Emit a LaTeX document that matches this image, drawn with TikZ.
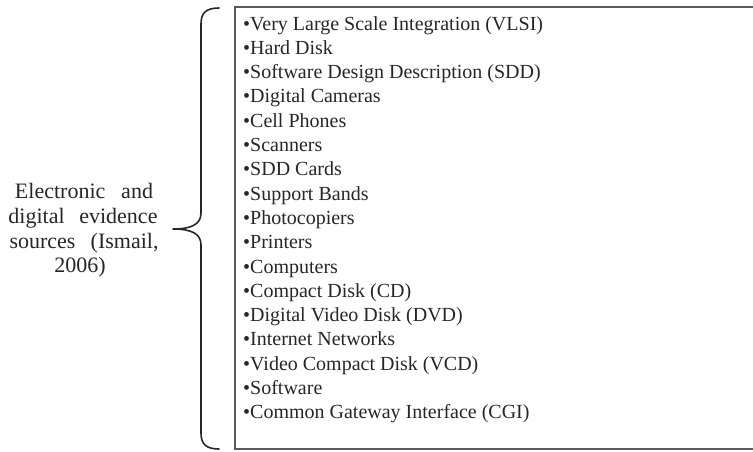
\documentclass[tikz,border=0pt]{standalone}
\usepackage{fontspec}
\setmainfont{Liberation Serif}
\definecolor{txt}{HTML}{262626}
\definecolor{boxline}{HTML}{5A5A5A}
\begin{document}
\begin{tikzpicture}[x=1pt,y=-1pt,
  item/.style={anchor=base west, inner sep=0pt, text=txt, font=\fontsize{20}{24}\selectfont},
  srcline/.style={anchor=base, inner sep=0pt, text=txt, font=\fontsize{22}{24}\selectfont},
  frameline/.style={draw=boxline, line width=1.8pt},
  bracepath/.style={draw=black!85, line width=1.6pt, line cap=round, line join=round}]
\useasboundingbox (0,0) rectangle (753,451);
% list frame (open on the right)
\draw[frameline] (753,7) -- (235,7) -- (235,449) -- (753,449);
% items
\foreach \t [count=\i] in {
  {Very Large Scale Integration (VLSI)},
  {Hard Disk},
  {Software Design Description (SDD)},
  {Digital Cameras},
  {Cell Phones},
  {Scanners},
  {SDD Cards},
  {Support Bands},
  {Photocopiers},
  {Printers},
  {Computers},
  {Compact Disk (CD)},
  {Digital Video Disk (DVD)},
  {Internet Networks},
  {Video Compact Disk (VCD)},
  {Software},
  {Common Gateway Interface (CGI)}}
  \node[item] (item\i) at (243,{30+(\i-1)*24.3}) {\textbullet\t};
% left label
\node[srcline] (src1) at (84,198) {\makebox[138pt][s]{Electronic and}};
\node[srcline] (src2) at (83,223) {\makebox[149pt][s]{digital evidence}};
\node[srcline] (src3) at (84,248) {\makebox[149pt][s]{sources (Ismail,}};
\node[srcline] (src4) at (80,272) {2006)};
% brace
\coordinate (tip) at (173,229);
\draw[bracepath] (219,8) .. controls (206,8) and (201,13) .. (201,24)
  -- (201,213) .. controls (201,224) and (192,229) .. (tip)
  .. controls (192,229) and (201,234) .. (201,245)
  -- (201,433) .. controls (201,444) and (206,449) .. (219,449);
\end{tikzpicture}
\end{document}
